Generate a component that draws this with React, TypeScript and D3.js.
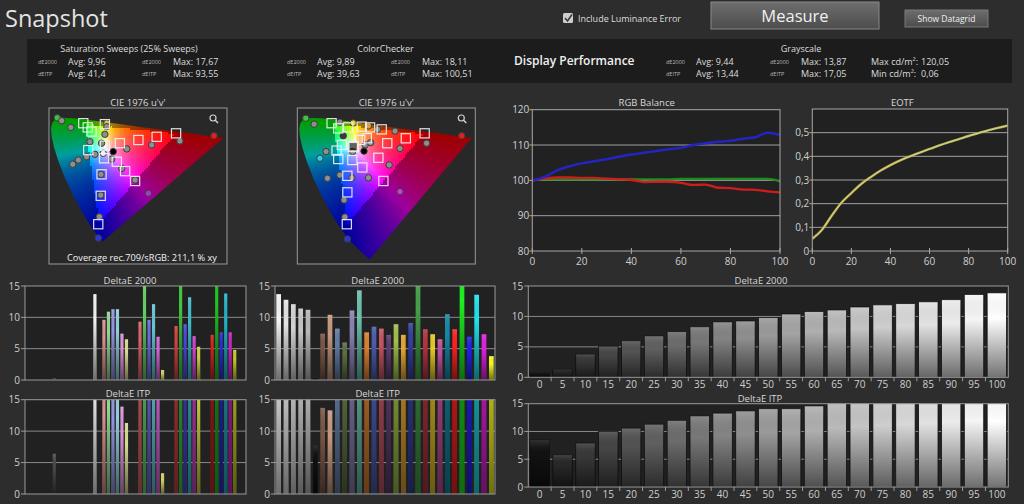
import React, { useEffect, useRef } from 'react';
import * as d3 from 'd3';

type Sel = d3.Selection<any, unknown, null, undefined>;

const W = 1024;
const H = 504;
const FONT = "'Segoe UI', 'Open Sans', 'DejaVu Sans', sans-serif";

const BG = '#2d2d2d';
const PLOT_BG = '#212121';
const FRAME = '#9a9a9a';
const GRID = '#8a8a8a';
const TEXT = '#d8d8d8';

// summary block numbers: [dE2000 avg, dE2000 max, dEITP avg, dEITP max]
const sweepSummary = [9.96, 17.67, 41.4, 93.55];
const checkerSummary = [9.89, 18.11, 39.63, 100.51];
const grayscaleSummary = [9.44, 13.87, 13.44, 17.05];
const luminanceRange = [120.05, 0.06]; // max / min cd/m²
const coverage709 = 211.1;

// grayscale stimulus levels (%)
const grayLevels = [0, 5, 10, 15, 20, 25, 30, 35, 40, 45, 50, 55, 60, 65, 70, 75, 80, 85, 90, 95, 100];

const rgbRed = [100, 100.5, 100.8, 100.8, 100.7, 100.7, 100.5, 100.3, 100.1, 99.5, 99.6, 99.6, 99.3, 98.7, 98.8, 97.9, 97.8, 97.4, 97.3, 96.9, 96.6];
const rgbGreen = [100, 100.3, 100.3, 100.3, 100.3, 100.3, 100.3, 100.3, 100.3, 100.3, 100.3, 100.3, 100.4, 100.4, 100.4, 100.4, 100.4, 100.4, 100.4, 100.4, 99.7];
const rgbBlue = [100, 101.0, 102.8, 104.0, 104.8, 105.4, 106.0, 106.7, 107.3, 107.8, 108.3, 108.8, 109.2, 110.0, 110.5, 110.9, 111.2, 111.8, 112.2, 113.5, 112.9];

const eotfMeasured = [0.052, 0.09, 0.15, 0.205, 0.245, 0.283, 0.313, 0.34, 0.363, 0.383, 0.4, 0.416, 0.431, 0.446, 0.46, 0.473, 0.486, 0.498, 0.51, 0.52, 0.53];

const grayDe2000 = [0.77, 1.3, 3.8, 5.1, 6.0, 6.8, 7.5, 8.3, 9.1, 9.25, 9.8, 10.4, 10.8, 11.06, 11.55, 11.9, 12.1, 12.4, 12.75, 13.6, 13.87];
const grayDeItp = [8.5, 5.8, 7.9, 10.0, 10.6, 11.3, 12.0, 12.8, 13.3, 13.7, 14.1, 14.1, 14.6, 15.3, 15.6, 15.9, 16.2, 16.5, 16.8, 17.05, 16.9];

// saturation sweeps: black, white, then R G B C M Y at each saturation step
const sweepSaturations = [25, 50, 75, 100];
const sweepHues = ['Red', 'Green', 'Blue', 'Cyan', 'Magenta', 'Yellow'];
const sweepPrimaries = ['#d42222', '#22c422', '#2a2ae0', '#22b4c8', '#c824c8', '#c8c824'];
const sweepBlackWhiteDe2000 = [0.3, 13.7];
const sweepBlackWhiteDeItp = [6.4, 24.5];
const sweepDe2000 = [
  [9.6, 10.9, 11.3, 11.3, 7.4, 6.5],
  [9.3, 15.8, 9.6, 12.1, 6.9, 1.6],
  [8.6, 16.9, 8.9, 13.2, 7.0, 5.3],
  [7.2, 17.67, 7.6, 13.8, 7.6, 4.8],
];
const sweepDeItp = [
  [18.2, 19.6, 16.9, 17.4, 13.9, 11.3],
  [38.5, 41.2, 35.1, 31.8, 27.6, 3.3],
  [55.4, 62.7, 48.9, 45.3, 41.8, 22.6],
  [78.2, 93.55, 67.4, 61.9, 58.3, 36.1],
];

// ColorChecker patches in measurement order
const checkerColors = [
  '#f4f4f4', '#e4e4e4', '#d4d4d4', '#c6c6c6', '#b8b8b8', '#101010',
  '#7a5646', '#c8987f', '#627ca4', '#5a7040', '#8882b4', '#6cc0ac',
  '#dc8030', '#4c5cb0', '#c45464', '#5e3a70', '#a0c048', '#e4a430',
  '#3440a0', '#46a04a', '#b43440', '#e8c824', '#c0509c', '#1488a8',
  '#ff2020', '#20f020', '#2020f0', '#20e0e8', '#e020e0', '#f8f820',
];
const checkerDe2000 = [13.7, 12.8, 12.1, 11.4, 11.2, 0.4, 7.4, 10.4, 8.2, 6.0, 11.1, 14.3, 7.6, 8.5, 8.2, 7.2, 8.9, 7.2, 9.1, 16.4, 8.1, 7.3, 6.5, 10.5, 8.1, 18.11, 6.9, 13.6, 7.3, 3.8];
const checkerDeItp = [33.2, 31.5, 29.8, 27.4, 24.1, 7.7, 13.7, 13.3, 28.6, 26.9, 41.2, 38.4, 46.3, 35.7, 42.8, 30.5, 44.1, 44.6, 41.9, 60.3, 47.5, 52.2, 39.8, 50.4, 48.7, 100.51, 37.6, 60.2, 44.1, 45.9];

// CIE 1931 spectral locus in u'v' [nm, u', v']
const spectralLocus: [number, number, number][] = [
  [380, 0.2568, 0.0166], [400, 0.2557, 0.0159], [420, 0.2522, 0.0169], [430, 0.2461, 0.0226],
  [440, 0.2347, 0.035], [450, 0.2161, 0.055], [455, 0.2033, 0.0688], [460, 0.1877, 0.0871],
  [465, 0.169, 0.1119], [470, 0.1441, 0.151], [475, 0.1147, 0.2044], [480, 0.0828, 0.2709],
  [485, 0.0521, 0.3427], [490, 0.0282, 0.4117], [495, 0.0119, 0.4699], [500, 0.0035, 0.5131],
  [505, 0.0014, 0.5431], [510, 0.0046, 0.5638], [515, 0.0123, 0.577], [520, 0.0231, 0.5837],
  [525, 0.036, 0.5861], [530, 0.0501, 0.5867], [540, 0.0792, 0.5856], [550, 0.1127, 0.5821],
  [560, 0.1531, 0.5766], [570, 0.2026, 0.5694], [580, 0.2623, 0.5604], [590, 0.3315, 0.5501],
  [600, 0.4035, 0.5393], [620, 0.5203, 0.5219], [640, 0.583, 0.5125], [700, 0.6234, 0.5065],
];
const rec709: [number, number][] = [[0.4507, 0.5229], [0.125, 0.5625], [0.1754, 0.1579]];

// saturation sweep targets / measurements (u', v')
const sweepTargets: [number, number][] = [
  [0.118, 0.566], [0.134, 0.549], [0.148, 0.532], [0.196, 0.562], [0.196, 0.475], [0.136, 0.457],
  [0.25, 0.485], [0.317, 0.498], [0.383, 0.511], [0.453, 0.525], [0.193, 0.424], [0.239, 0.41],
  [0.269, 0.372], [0.305, 0.332], [0.184, 0.359], [0.181, 0.272], [0.172, 0.157],
];
const sweepMeasured: [number, number][] = [
  [0.024, 0.588], [0.04, 0.576], [0.073, 0.549], [0.203, 0.566], [0.203, 0.552], [0.196, 0.521],
  [0.142, 0.491], [0.184, 0.485], [0.275, 0.462], [0.226, 0.451], [0.19, 0.444], [0.16, 0.44],
  [0.13, 0.43], [0.1, 0.417], [0.08, 0.4], [0.221, 0.421], [0.257, 0.383], [0.305, 0.336],
  [0.365, 0.478], [0.467, 0.494], [0.59, 0.515], [0.182, 0.359], [0.181, 0.275], [0.353, 0.282],
  [0.176, 0.187], [0.172, 0.101],
];
const sweepMeasuredTint: [number, string][] = [
  [0, '#40c040'], [3, '#d8c840'], [9, '#000000'], [10, '#f0f0f0'], [20, '#e02020'], [23, '#a040c0'], [25, '#2a36d8'],
];

// ColorChecker targets / measurements (u', v')
const checkerTargets: [number, number][] = [
  [0.118, 0.566], [0.142, 0.545], [0.178, 0.549], [0.227, 0.552], [0.257, 0.549], [0.299, 0.541],
  [0.245, 0.505], [0.221, 0.498], [0.319, 0.485], [0.386, 0.505], [0.454, 0.525], [0.196, 0.471],
  [0.155, 0.478], [0.136, 0.455], [0.142, 0.421], [0.193, 0.417], [0.229, 0.387], [0.287, 0.426],
  [0.175, 0.353], [0.305, 0.332], [0.175, 0.286], [0.173, 0.157],
];
const checkerMeasured: [number, number][] = [
  [0.025, 0.586], [0.055, 0.562], [0.148, 0.57], [0.196, 0.567], [0.251, 0.555], [0.284, 0.541],
  [0.347, 0.534], [0.16, 0.515], [0.239, 0.478], [0.259, 0.487], [0.235, 0.453], [0.194, 0.451],
  [0.098, 0.451], [0.076, 0.424], [0.365, 0.464], [0.461, 0.485], [0.588, 0.515], [0.326, 0.397],
  [0.191, 0.345], [0.148, 0.356], [0.251, 0.345], [0.103, 0.343], [0.365, 0.289], [0.163, 0.255],
  [0.166, 0.186], [0.175, 0.097],
];
const checkerMeasuredTint: [number, string][] = [
  [0, '#40c040'], [3, '#e8d030'], [4, '#d8a040'], [7, '#3a3a3a'], [10, '#000000'], [13, '#30d0e0'],
  [16, '#e02020'], [22, '#c040d0'], [25, '#2a36d8'],
];

const fmt = (n: number) => String(n).replace('.', ',');

const label = (
  g: Sel, x: number, y: number, text: string, size: number,
  anchor = 'start', fill = TEXT, weight: number | string = 400,
) =>
  g.append('text')
    .attr('x', x).attr('y', y)
    .attr('font-family', FONT).attr('font-size', size).attr('font-weight', weight)
    .attr('fill', fill).attr('text-anchor', anchor)
    .text(text);

// u'v' -> display colour, dimmed outside the rec.709 triangle
const chromaColor = (u: number, v: number) => {
  const d = 6 * u - 16 * v + 12;
  const x = (9 * u) / d;
  const y = (4 * v) / d;
  if (!(y > 0.002)) return '#000';
  const X = x / y;
  const Z = (1 - x - y) / y;
  const r = Math.max(0, 3.2406 * X - 1.5372 - 0.4986 * Z);
  const g = Math.max(0, -0.9689 * X + 1.8758 + 0.0415 * Z);
  const b = Math.max(0, 0.0557 * X - 0.204 + 1.057 * Z);
  const m = Math.max(r, g, b) || 1;
  const k = d3.polygonContains(rec709, [u, v]) ? 1 : 0.62;
  const enc = (c: number) => Math.round(255 * k * Math.pow(c / m, 0.85));
  return `rgb(${enc(r)},${enc(g)},${enc(b)})`;
};

function drawCie(
  svg: Sel, defs: Sel, id: string, fx: number, fy: number,
  locus: [number, number, number][], targets: [number, number][], measured: [number, number][],
  tint: [number, string][], whiteTarget: number, note?: string,
) {
  const fw = 178;
  const fh = 156;
  const u = d3.scaleLinear().domain([0, 0.63]).range([fx + 1.6, fx + 176.1]);
  const v = d3.scaleLinear().domain([0, 0.6]).range([fy + 155, fy + 6.8]);
  const g = svg.append('g');

  label(g, fx + fw / 2, fy - 2.5, "CIE 1976 u'v'", 9.5, 'middle');
  g.append('rect').attr('x', fx).attr('y', fy).attr('width', fw).attr('height', fh)
    .attr('fill', '#282828').attr('stroke', FRAME).attr('stroke-width', 1);

  const pts = locus.map((d) => [u(d[1]), v(d[2])] as [number, number]);
  defs.append('clipPath').attr('id', id)
    .append('path').attr('d', `M${pts.map((p) => p.join(',')).join('L')}Z`);

  const x0 = Math.floor(d3.min(pts, (p) => p[0])!);
  const x1 = Math.ceil(d3.max(pts, (p) => p[0])!);
  const y0 = Math.floor(d3.min(pts, (p) => p[1])!);
  const y1 = Math.ceil(d3.max(pts, (p) => p[1])!);
  const cells: { x: number; y: number; c: string }[] = [];
  for (let py = y0; py < y1; py += 2) {
    for (let px = x0; px < x1; px += 2) {
      cells.push({ x: px, y: py, c: chromaColor(u.invert(px + 1), v.invert(py + 1)) });
    }
  }
  g.append('g').attr('clip-path', `url(#${id})`).attr('shape-rendering', 'crispEdges')
    .selectAll('rect').data(cells).join('rect')
    .attr('x', (d) => d.x).attr('y', (d) => d.y).attr('width', 2).attr('height', 2)
    .attr('fill', (d) => d.c);

  // magnifier
  g.append('circle').attr('cx', fx + 164).attr('cy', fy + 10).attr('r', 3)
    .attr('fill', 'none').attr('stroke', '#cfcfcf').attr('stroke-width', 1.2);
  g.append('line').attr('x1', fx + 166.2).attr('y1', fy + 12.2).attr('x2', fx + 169).attr('y2', fy + 15)
    .attr('stroke', '#cfcfcf').attr('stroke-width', 1.5);

  const tints = new Map(tint);
  g.selectAll('circle.meas').data(measured).join('circle').attr('class', 'meas')
    .attr('cx', (d) => u(d[0])).attr('cy', (d) => v(d[1])).attr('r', 3.2)
    .attr('fill', (_, i) => tints.get(i) ?? '#8e8e8e')
    .attr('stroke', '#3c3c3c').attr('stroke-width', 1);

  g.selectAll('rect.target').data(targets).join('rect').attr('class', 'target')
    .attr('x', (d) => u(d[0]) - 4.6).attr('y', (d) => v(d[1]) - 4.6)
    .attr('width', 9.2).attr('height', 9.2)
    .attr('fill', (_, i) => (i === whiteTarget ? 'rgba(0,0,0,0.6)' : 'none'))
    .attr('stroke', '#f4f4f4')
    .attr('stroke-width', (_, i) => (i === whiteTarget ? 2 : 1.2))
    .attr('stroke-opacity', 0.9);

  if (note) label(g, fx + 93, fy + 153, note, 9.2, 'middle', '#f2f2f2');
}

interface BarPanel {
  left: number; top: number; right: number; bottom: number;
  values: number[]; colors: string[]; slots: number[]; slotCount: number;
  padding: number; outline?: boolean; xLabels?: string[];
  title: string; titleX: number; titleY: number;
}

function drawBars(svg: Sel, defs: Sel, id: string, p: BarPanel) {
  const x = d3.scaleBand<number>().domain(d3.range(p.slotCount))
    .range([p.left, p.right]).paddingInner(p.padding).paddingOuter(p.padding / 2);
  const y = d3.scaleLinear().domain([0, 15]).range([p.bottom, p.top]);
  const g = svg.append('g');

  label(g, p.titleX, p.titleY, p.title, 9.5, 'middle');
  g.append('rect').attr('x', p.left).attr('y', p.top)
    .attr('width', p.right - p.left).attr('height', p.bottom - p.top).attr('fill', PLOT_BG);

  g.selectAll('line.grid').data([5, 10]).join('line').attr('class', 'grid')
    .attr('x1', p.left).attr('x2', p.right).attr('y1', (d) => y(d)).attr('y2', (d) => y(d))
    .attr('stroke', GRID).attr('stroke-width', 1);

  defs.append('clipPath').attr('id', id).append('rect')
    .attr('x', p.left).attr('y', p.top).attr('width', p.right - p.left).attr('height', p.bottom - p.top);
  const bars = g.append('g').attr('clip-path', `url(#${id})`);
  const rows = p.values.map((val, i) => ({ val, i }));
  bars.selectAll('rect.bar').data(rows).join('rect').attr('class', 'bar')
    .attr('x', (d) => x(p.slots[d.i])!).attr('width', x.bandwidth())
    .attr('y', (d) => y(d.val)).attr('height', (d) => y(0) - y(d.val))
    .attr('fill', (d) => p.colors[d.i])
    .attr('stroke', p.outline ? '#0e0e0e' : 'none').attr('stroke-width', 0.8);
  bars.selectAll('rect.shade').data(rows).join('rect').attr('class', 'shade')
    .attr('x', (d) => x(p.slots[d.i])!).attr('width', x.bandwidth())
    .attr('y', (d) => y(d.val)).attr('height', (d) => y(0) - y(d.val))
    .attr('fill', 'url(#barShade)');

  g.append('rect').attr('x', p.left).attr('y', p.top)
    .attr('width', p.right - p.left).attr('height', p.bottom - p.top)
    .attr('fill', 'none').attr('stroke', FRAME).attr('stroke-width', 1);

  [0, 5, 10, 15].forEach((t) => {
    g.append('line').attr('x1', p.left - 4).attr('x2', p.left).attr('y1', y(t)).attr('y2', y(t))
      .attr('stroke', FRAME);
    label(g, p.left - 5, y(t) + 3.5, String(t), 10, 'end', '#cfcfcf');
  });

  if (p.xLabels) {
    const step = x.step();
    d3.range(1, p.slotCount).forEach((i) => {
      const tx = p.left + i * step;
      g.append('line').attr('x1', tx).attr('x2', tx).attr('y1', p.bottom).attr('y2', p.bottom + 4)
        .attr('stroke', FRAME);
    });
    p.xLabels.forEach((t, i) => {
      label(g, x(i)! + x.bandwidth() / 2, p.bottom + 11, t, 10, 'middle', '#cfcfcf');
    });
  }
}

interface LinePanel {
  left: number; top: number; right: number; bottom: number;
  yDomain: [number, number]; yTicks: number[]; grid: number[];
  yFormat: (n: number) => string;
  series: { values: number[]; color: string; width: number }[];
  title: string; titleX: number;
}

function drawLines(svg: Sel, defs: Sel, id: string, p: LinePanel) {
  const x = d3.scaleLinear().domain([0, 100]).range([p.left, p.right]);
  const y = d3.scaleLinear().domain(p.yDomain).range([p.bottom, p.top]);
  const g = svg.append('g');

  label(g, p.titleX, 106, p.title, 9.5, 'middle');
  g.append('rect').attr('x', p.left).attr('y', p.top)
    .attr('width', p.right - p.left).attr('height', p.bottom - p.top).attr('fill', PLOT_BG);
  g.selectAll('line.grid').data(p.grid).join('line').attr('class', 'grid')
    .attr('x1', p.left).attr('x2', p.right).attr('y1', (d) => y(d)).attr('y2', (d) => y(d))
    .attr('stroke', '#a0a0a0').attr('stroke-width', 1);

  defs.append('clipPath').attr('id', id).append('rect')
    .attr('x', p.left).attr('y', p.top).attr('width', p.right - p.left).attr('height', p.bottom - p.top);
  const line = d3.line<number>().x((_, i) => x(grayLevels[i])).y((d) => y(d)).curve(d3.curveMonotoneX);
  const lines = g.append('g').attr('clip-path', `url(#${id})`);
  p.series.forEach((s) => {
    lines.append('path').attr('d', line(s.values)!).attr('fill', 'none')
      .attr('stroke', s.color).attr('stroke-width', s.width).attr('stroke-linejoin', 'round');
  });

  g.append('rect').attr('x', p.left).attr('y', p.top)
    .attr('width', p.right - p.left).attr('height', p.bottom - p.top)
    .attr('fill', 'none').attr('stroke', '#a8a8a8').attr('stroke-width', 1);

  p.yTicks.forEach((t) => {
    g.append('line').attr('x1', p.left - 3).attr('x2', p.left).attr('y1', y(t)).attr('y2', y(t))
      .attr('stroke', '#a8a8a8');
    label(g, p.left - 3, y(t) + 3.5, p.yFormat(t), 10, 'end', '#d0d0d0');
  });
  [0, 20, 40, 60, 80, 100].forEach((t) => {
    g.append('line').attr('x1', x(t)).attr('x2', x(t)).attr('y1', p.bottom - 3).attr('y2', p.bottom + 3)
      .attr('stroke', '#a8a8a8');
    label(g, x(t), p.bottom + 14, String(t), 10, 'middle', '#d0d0d0');
  });
}

const App: React.FC = () => {
  const ref = useRef<SVGSVGElement | null>(null);

  useEffect(() => {
    if (!ref.current) return;
    const svg = d3.select(ref.current).html('') as unknown as Sel;
    svg.append('rect').attr('width', W).attr('height', H).attr('fill', BG);
    const defs = svg.append('defs');

    const shade = defs.append('linearGradient').attr('id', 'barShade')
      .attr('x1', 0).attr('y1', 0).attr('x2', 0).attr('y2', 1);
    shade.append('stop').attr('offset', '0%').attr('stop-color', '#fff').attr('stop-opacity', 0.14);
    shade.append('stop').attr('offset', '30%').attr('stop-color', '#000').attr('stop-opacity', 0);
    shade.append('stop').attr('offset', '100%').attr('stop-color', '#000').attr('stop-opacity', 0.55);

    const btn = defs.append('linearGradient').attr('id', 'btnFill')
      .attr('x1', 0).attr('y1', 0).attr('x2', 0).attr('y2', 1);
    btn.append('stop').attr('offset', '0%').attr('stop-color', '#6e6e6e');
    btn.append('stop').attr('offset', '100%').attr('stop-color', '#4c4c4c');

    // header
    const head = svg.append('g');
    label(head, 5, 27, 'Snapshot', 23.5, 'start', '#e4e4e4');
    head.append('rect').attr('x', 563).attr('y', 13).attr('width', 10).attr('height', 10).attr('rx', 1.5)
      .attr('fill', '#cfcfcf');
    head.append('path').attr('d', 'M565,18 L567.5,21 L572,14.5').attr('fill', 'none')
      .attr('stroke', '#3a3a3a').attr('stroke-width', 1.6);
    label(head, 578, 21.5, 'Include Luminance Error', 9, 'start', '#dcdcdc');
    head.append('rect').attr('x', 711).attr('y', 2).attr('width', 168).attr('height', 27)
      .attr('fill', 'url(#btnFill)').attr('stroke', '#8a8a8a');
    label(head, 795, 22, 'Measure', 16.5, 'middle', '#f0f0f0');
    head.append('rect').attr('x', 905).attr('y', 10).attr('width', 83).attr('height', 17)
      .attr('fill', 'url(#btnFill)').attr('stroke', '#7a7a7a');
    label(head, 946.5, 21.5, 'Show Datagrid', 8.5, 'middle', '#f0f0f0');

    // summary strip
    const strip = svg.append('g');
    strip.append('rect').attr('x', 27).attr('y', 39).attr('width', 985).attr('height', 44).attr('fill', '#1c1c1c');
    const block = (x0: number, title: string, titleX: number, vals: number[]) => {
      label(strip, titleX, 52, title, 9, 'middle', '#dcdcdc');
      [['dE2000', 'Avg', vals[0], 'Max', vals[1]], ['dEITP', 'Avg', vals[2], 'Max', vals[3]]].forEach((row, r) => {
        const yy = 65 + r * 12;
        label(strip, x0, yy - 1, row[0] as string, 5.5, 'start', '#b8b8b8');
        label(strip, x0 + 30, yy, `${row[1]}: ${fmt(row[2] as number)}`, 9, 'start', '#dcdcdc');
        label(strip, x0 + 104, yy - 1, row[0] as string, 5.5, 'start', '#b8b8b8');
        label(strip, x0 + 135, yy, `${row[3]}: ${fmt(row[4] as number)}`, 9, 'start', '#dcdcdc');
      });
    };
    block(38, 'Saturation Sweeps (25% Sweeps)', 129, sweepSummary);
    block(287, 'ColorChecker', 385.5, checkerSummary);
    block(666, 'Grayscale', 801, grayscaleSummary);
    label(strip, 514, 65, 'Display Performance', 12, 'start', '#f0f0f0', 600);
    label(strip, 871, 65, 'Max cd/m²:', 9, 'start', '#dcdcdc');
    label(strip, 921, 65, fmt(luminanceRange[0]), 9, 'start', '#dcdcdc');
    label(strip, 871, 77, 'Min cd/m²:', 9, 'start', '#dcdcdc');
    label(strip, 921, 77, fmt(luminanceRange[1]), 9, 'start', '#dcdcdc');

    // chromaticity diagrams
    drawCie(svg, defs, 'cieSweep', 49, 108, spectralLocus.filter((d) => d[0] >= 460),
      sweepTargets, sweepMeasured, sweepMeasuredTint, -1,
      `Coverage rec.709/sRGB:  ${fmt(coverage709)} % xy`);
    drawCie(svg, defs, 'cieChecker', 297.3, 108, spectralLocus,
      checkerTargets, checkerMeasured, checkerMeasuredTint, 11);

    // RGB balance & EOTF
    drawLines(svg, defs, 'rgbClip', {
      left: 532.3, top: 109.7, right: 780, bottom: 251,
      yDomain: [80, 120], yTicks: [80, 90, 100, 110, 120], grid: [90, 100, 110],
      yFormat: (n) => String(n),
      series: [
        { values: rgbGreen, color: '#1f8c1f', width: 2.3 },
        { values: rgbRed, color: '#d01c1c', width: 2.3 },
        { values: rgbBlue, color: '#2424c4', width: 2.5 },
      ],
      title: 'RGB Balance', titleX: 646.7,
    });
    drawLines(svg, defs, 'eotfClip', {
      left: 812.3, top: 109, right: 1007.7, bottom: 251,
      yDomain: [0, 0.6], yTicks: [0, 0.1, 0.2, 0.3, 0.4, 0.5], grid: [0.1, 0.2, 0.3, 0.4, 0.5],
      yFormat: (n) => (n === 0 ? '0' : fmt(+n.toFixed(1))),
      series: [
        { values: eotfMeasured, color: '#b8b246', width: 2.4 },
        { values: eotfMeasured, color: '#d8d6a4', width: 0.9 },
      ],
      title: 'EOTF', titleX: 902.3,
    });

    // saturation sweep bars
    const sweepSlots = [6, 15, ...sweepSaturations.flatMap((_, s) => sweepHues.map((__, h) => 17 + 8 * s + h))];
    const sweepColors = [
      '#4a4a4a', '#f2f2f2',
      ...sweepSaturations.flatMap((sat) =>
        sweepPrimaries.map((c) => d3.interpolateRgb('#e6e6e6', c)(Math.pow(sat / 100, 0.6)))),
    ];
    drawBars(svg, defs, 'sweepDe', {
      left: 25, top: 286, right: 246, bottom: 380,
      values: [...sweepBlackWhiteDe2000, ...sweepDe2000.flat()], colors: sweepColors,
      slots: sweepSlots, slotCount: 49, padding: 0.3,
      title: 'DeltaE 2000', titleX: 130, titleY: 283.5,
    });
    drawBars(svg, defs, 'sweepItp', {
      left: 25, top: 399.7, right: 246, bottom: 494,
      values: [...sweepBlackWhiteDeItp, ...sweepDeItp.flat()], colors: sweepColors,
      slots: sweepSlots, slotCount: 49, padding: 0.3,
      title: 'DeltaE ITP', titleX: 128, titleY: 396.5,
    });

    // ColorChecker bars
    const checkerSlots = d3.range(checkerColors.length);
    drawBars(svg, defs, 'checkerDe', {
      left: 275, top: 286, right: 495, bottom: 380,
      values: checkerDe2000, colors: checkerColors, slots: checkerSlots, slotCount: checkerSlots.length,
      padding: 0.36, title: 'DeltaE 2000', titleX: 377.7, titleY: 283.5,
    });
    drawBars(svg, defs, 'checkerItp', {
      left: 275, top: 399.7, right: 495, bottom: 494,
      values: checkerDeItp, colors: checkerColors, slots: checkerSlots, slotCount: checkerSlots.length,
      padding: 0.36, title: 'DeltaE ITP', titleX: 377.7, titleY: 396.5,
    });

    // grayscale bars
    const grayColors = grayLevels.map((l) => {
      const c = Math.round(18 + 237 * Math.pow(l / 100, 0.8));
      return d3.rgb(c, c, c).formatHex();
    });
    const graySlots = d3.range(grayLevels.length);
    drawBars(svg, defs, 'grayDe', {
      left: 528.3, top: 286, right: 1008.3, bottom: 377.3,
      values: grayDe2000, colors: grayColors, slots: graySlots, slotCount: graySlots.length,
      padding: 0.15, outline: true, xLabels: grayLevels.map(String),
      title: 'DeltaE 2000', titleX: 761, titleY: 283.5,
    });
    drawBars(svg, defs, 'grayItp', {
      left: 528.3, top: 403.7, right: 1008.3, bottom: 487,
      values: grayDeItp, colors: grayColors, slots: graySlots, slotCount: graySlots.length,
      padding: 0.15, outline: true, xLabels: grayLevels.map(String),
      title: 'DeltaE ITP', titleX: 760, titleY: 401.5,
    });
  }, []);

  return (
    <svg
      ref={ref}
      width={W}
      height={H}
      style={{ position: 'absolute', left: 0, top: 0, display: 'block' }}
    />
  );
};

export default App;
